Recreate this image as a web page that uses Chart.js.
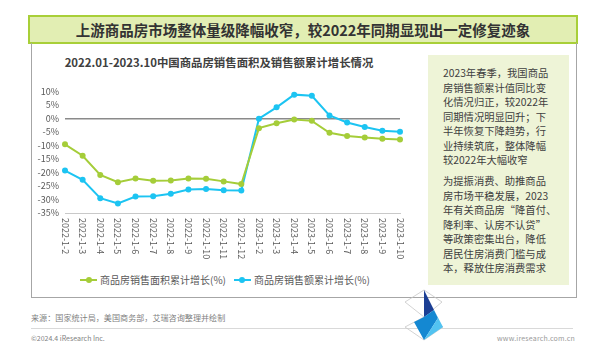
<!DOCTYPE html>
<html>
<head>
<meta charset="utf-8">
<script src="https://cdn.jsdelivr.net/npm/chart.js@4.4.0/dist/chart.umd.min.js"></script>
<style>
  body { margin: 0; background: #fff; font-family: "Noto Sans CJK SC", "Noto Sans", sans-serif; }
  #page { position: relative; width: 600px; height: 361px; overflow: hidden; }
  .abs { position: absolute; white-space: nowrap; }
  #headBar {
    left: 28px; top: 15px; width: 546px; height: 25px;
    background: #e2eeb3; border: 2px solid #a8cf38;
    text-align: center; line-height: 25px;
    font-size: 14.5px; font-weight: bold; color: #333;
  }
  #frame {
    left: 31px; top: 43px; width: 544px; height: 254px;
    border: 1.5px solid #a6a6a6; border-top: none;
  }
  #chartTitle {
    left: 31px; width: 376px; top: 53px; text-align: center;
    font-size: 11.4px; font-weight: bold; color: #404040; line-height: 18px;
  }
  #note {
    left: 428px; top: 55px; width: 141px; height: 230px; background: #eef4d7;
  }
  #note p {
    margin: 0; position: absolute; left: 15px;
    font-size: 10.3px; line-height: 14.5px; color: #404040;
  }
  #legend { top: 272px; left: 80px; font-size: 10px; color: #595959; line-height: 16px; }
  .mark { display: inline-block; position: relative; width: 17px; height: 16px; vertical-align: top; margin-right: 3px; }
  .mark i { position: absolute; left: 0; top: 7px; width: 17px; height: 2px; }
  .mark b { position: absolute; left: 5.5px; top: 5px; width: 6px; height: 6px; border-radius: 50%; }
  #source { left: 31px; top: 312px; font-size: 8.1px; color: #7f7f7f; line-height: 12px; }
  #rule { left: 31px; top: 328px; width: 542px; height: 1px; background: #d9d9d9; }
  #copy { left: 31px; top: 334px; font-size: 7px; color: #7f7f7f; line-height: 9px; }
  #site { left: 497px; top: 334px; font-size: 7px; color: #999; line-height: 9px; letter-spacing: 0.2px; }
  #logo { left: 400px; top: 286px; }
  canvas { position: absolute; left: 20px; top: 80px; }
</style>
</head>
<body>
<div id="page">
  <div id="headBar" class="abs">上游商品房市场整体量级降幅收窄，较2022年同期显现出一定修复迹象</div>
  <div id="frame" class="abs"></div>
  <div id="chartTitle" class="abs">2022.01-2023.10中国商品房销售面积及销售额累计增长情况</div>
  <div id="note" class="abs">
    <p style="top:11px">2023年春季，我国商品<br>房销售额累计值同比变<br>化情况归正，较2022年<br>同期情况明显回升；下<br>半年恢复下降趋势，行<br>业持续筑底，整体降幅<br>较2022年大幅收窄</p>
    <p style="top:119px">为提振消费、助推商品<br>房市场平稳发展，2023<br>年有关商品房“降首付、<br>降利率、认房不认贷”<br>等政策密集出台，降低<br>居民住房消费门槛与成<br>本，释放住房消费需求</p>
  </div>
  <canvas id="trendChart" width="400" height="190"></canvas>
  <div id="legend" class="abs"></div>
  <div id="source" class="abs">来源：国家统计局，美国商务部，艾瑞咨询整理并绘制</div>
  <div id="rule" class="abs"></div>
  <div id="copy" class="abs">©2024.4 iResearch Inc.</div>
  <div id="site" class="abs">www.iresearch.com.cn</div>
  <svg id="logo" class="abs" width="50" height="60" viewBox="400 286 50 60">
    <polygon points="405,302 424,290 442,302 424,317" fill="none" stroke="#c8c8c8" stroke-width="0.8"/>
    <polygon points="405,327 424,317 443,327 424,340" fill="none" stroke="#c8c8c8" stroke-width="0.8"/>
    <polygon points="424,290 434,310 424,317" fill="#1c3f94"/>
    <polygon points="424,317 434,310 438,318 424,340 414,322" fill="#1488d2"/>
    <polygon points="434,310 443,327 424,340 438,318" fill="#52c3f1"/>
  </svg>
</div>

<script>
// categories and series
const months = [
  '2022-1-2', '2022-1-3', '2022-1-4', '2022-1-5', '2022-1-6', '2022-1-7',
  '2022-1-8', '2022-1-9', '2022-1-10', '2022-1-11', '2022-1-12',
  '2023-1-2', '2023-1-3', '2023-1-4', '2023-1-5', '2023-1-6', '2023-1-7',
  '2023-1-8', '2023-1-9', '2023-1-10'
];
const areaGrowth = [-9.6, -13.8, -20.9, -23.6, -22.2, -23.1, -23.0, -22.2, -22.3, -23.3, -24.3,
  -3.6, -1.8, -0.4, -0.9, -5.3, -6.5, -7.1, -7.5, -7.8];
const salesGrowth = [-19.3, -22.7, -29.5, -31.5, -28.9, -28.8, -27.9, -26.3, -26.1, -26.6, -26.7,
  -0.1, 4.1, 8.8, 8.4, 1.1, -1.5, -3.2, -4.6, -4.9];
const seriesNames = ['商品房销售面积累计增长(%)', '商品房销售额累计增长(%)'];
const seriesColors = ['#a5cd39', '#1cc4f2'];

const tickFont = '9px "Noto Sans CJK SC", "Noto Sans", sans-serif';

// x labels read top-to-bottom, so draw them ourselves on the category scale
const verticalLabels = {
  id: 'verticalLabels',
  afterDraw(chart) {
    const x = chart.scales.x;
    const c = chart.ctx;
    c.save();
    c.font = tickFont;
    c.fillStyle = '#595959';
    c.textAlign = 'left';
    c.textBaseline = 'middle';
    months.forEach((m, i) => {
      c.save();
      c.translate(x.getPixelForValue(i), chart.chartArea.bottom + 5);
      c.rotate(Math.PI / 2);
      c.fillText(m, 0, 0);
      c.restore();
    });
    c.restore();
  }
};

function makeDataset(label, data, color) {
  return {
    label: label,
    data: data,
    borderColor: color,
    backgroundColor: color,
    borderWidth: 2,
    pointRadius: 3,
    pointBorderWidth: 0,
    pointBackgroundColor: color,
    tension: 0,
    clip: false
  };
}

new Chart(document.getElementById('trendChart'), {
  type: 'line',
  data: {
    labels: months,
    datasets: [
      makeDataset(seriesNames[0], areaGrowth, seriesColors[0]),
      makeDataset(seriesNames[1], salesGrowth, seriesColors[1])
    ]
  },
  options: {
    responsive: false,
    animation: false,
    layout: { padding: { top: 7, right: 20, bottom: 49, left: 0 } },
    plugins: {
      legend: { display: false },
      tooltip: { enabled: false }
    },
    scales: {
      x: {
        offset: false,
        grid: { display: false },
        border: { display: true, color: '#c9c9c9', width: 1 },
        ticks: { display: false }
      },
      y: {
        min: -35,
        max: 10,
        afterFit(scale) { scale.width = 45; },
        border: { display: false },
        grid: {
          drawTicks: false,
          color: ctx => ctx.tick && ctx.tick.value === 0 ? '#8a8a8a' : 'transparent',
          lineWidth: 1.5
        },
        ticks: {
          stepSize: 5,
          autoSkip: false,
          padding: 6,
          color: '#595959',
          font: { size: 9, family: '"Noto Sans CJK SC", "Noto Sans", sans-serif' },
          callback: v => v + '%'
        }
      }
    }
  },
  plugins: [verticalLabels]
});

// legend built from the series names and colours
const legendBox = document.getElementById('legend');
seriesNames.forEach((name, i) => {
  const item = document.createElement('span');
  item.style.marginRight = i === 0 ? '8px' : '0';
  item.innerHTML = '<span class="mark"><i style="background:' + seriesColors[i] + '"></i>' +
    '<b style="background:' + seriesColors[i] + '"></b></span>' + name;
  legendBox.appendChild(item);
});
</script>
</body>
</html>
